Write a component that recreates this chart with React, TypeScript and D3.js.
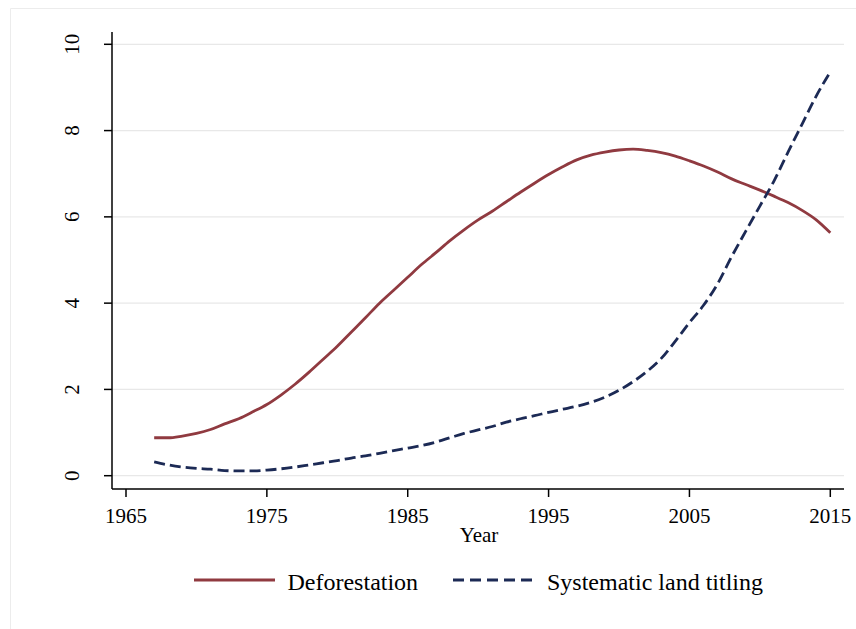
import React from "react";
import * as d3 from "d3";

const years: number[] = d3.range(1967, 2016);
const deforestation: number[] = [
  0.88, 0.88, 0.92, 0.98, 1.07, 1.2, 1.32, 1.48, 1.65, 1.87,
  2.12, 2.4, 2.7, 3.0, 3.33, 3.66, 4.0, 4.3, 4.6, 4.9,
  5.17, 5.45, 5.7, 5.93, 6.13, 6.35, 6.57, 6.78, 6.98, 7.16,
  7.32, 7.43, 7.5, 7.55, 7.57, 7.54, 7.49, 7.41, 7.3, 7.18,
  7.04, 6.88, 6.75, 6.62, 6.48, 6.33, 6.15, 5.93, 5.63,
];
const titling: number[] = [
  0.32, 0.25, 0.2, 0.17, 0.15, 0.12, 0.11, 0.11, 0.13, 0.16,
  0.2, 0.25, 0.3, 0.35, 0.41, 0.46, 0.52, 0.58, 0.64, 0.7,
  0.78, 0.88, 0.98, 1.06, 1.14, 1.24, 1.32, 1.39, 1.47, 1.54,
  1.61, 1.7, 1.82, 1.98, 2.18, 2.42, 2.72, 3.12, 3.55, 3.95,
  4.45, 5.08, 5.67, 6.25, 6.83, 7.5, 8.15, 8.8, 9.36,
];
const xTicks: number[] = [1965, 1975, 1985, 1995, 2005, 2015];
const yTicks: number[] = [0, 2, 4, 6, 8, 10];
const seriesNames: string[] = ["Deforestation", "Systematic land titling"];
const xTitle = "Year";

const RED = "#903a40";
const NAVY = "#1c2a55";
const FONT = '"Liberation Serif", "DejaVu Serif", serif';

export default function App() {
  const x = d3.scaleLinear().domain([1965, 2015]).range([126, 830.3]);
  const y = d3.scaleLinear().domain([0, 10]).range([475.7, 44.3]);
  const line = d3
    .line<number>()
    .x((_, i) => x(years[i]))
    .y((d) => y(d))
    .curve(d3.curveMonotoneX);

  const axisLeft = 112;
  const axisRight = 844;
  const axisBottom = 489;
  const axisTop = 32;
  const ts: React.CSSProperties = { fontFamily: FONT };

  return (
    <svg
      width={856}
      height={629}
      style={{ position: "absolute", left: 0, top: 0, background: "#fff", fontFamily: FONT }}
    >
      <rect x={0} y={0} width={856} height={629} fill="#fff" />
      <line x1={10.5} y1={8.5} x2={856} y2={8.5} stroke="#ececec" strokeWidth={1} />
      <line x1={10.5} y1={8.5} x2={10.5} y2={629} stroke="#ececec" strokeWidth={1} />

      {yTicks.map((t) => (
        <line
          key={"g" + t}
          x1={axisLeft}
          x2={axisRight}
          y1={y(t)}
          y2={y(t)}
          stroke="#e8e8e8"
          strokeWidth={1.3}
        />
      ))}

      <path d={line(deforestation) || ""} fill="none" stroke={RED} strokeWidth={2.8} />
      <path
        d={line(titling) || ""}
        fill="none"
        stroke={NAVY}
        strokeWidth={2.8}
        strokeDasharray="11,5"
      />

      <line x1={axisLeft} x2={axisLeft} y1={axisTop} y2={axisBottom} stroke="#000" strokeWidth={1.5} />
      <line x1={axisLeft} x2={axisRight} y1={axisBottom} y2={axisBottom} stroke="#000" strokeWidth={1.5} />
      {yTicks.map((t) => (
        <g key={"y" + t}>
          <line x1={104} x2={axisLeft} y1={y(t)} y2={y(t)} stroke="#000" strokeWidth={1.5} />
          <text
            transform={`translate(79,${y(t)}) rotate(-90)`}
            textAnchor="middle"
            fontSize={21}
            fill="#000"
            style={ts}
          >
            {t}
          </text>
        </g>
      ))}
      {xTicks.map((t) => (
        <g key={"x" + t}>
          <line x1={x(t)} x2={x(t)} y1={axisBottom} y2={497} stroke="#000" strokeWidth={1.5} />
          <text x={x(t)} y={523} textAnchor="middle" fontSize={21} fill="#000" style={ts}>
            {t}
          </text>
        </g>
      ))}
      <text x={479} y={542} textAnchor="middle" fontSize={21} fill="#000" style={ts}>
        {xTitle}
      </text>

      <line x1={194} x2={275} y1={580} y2={580} stroke={RED} strokeWidth={2.8} />
      <text x={287.5} y={590} fontSize={24} fill="#000" style={ts}>
        {seriesNames[0]}
      </text>
      <line
        x1={453}
        x2={535}
        y1={580}
        y2={580}
        stroke={NAVY}
        strokeWidth={2.8}
        strokeDasharray="11,6"
      />
      <text x={547} y={590} fontSize={24} fill="#000" style={ts}>
        {seriesNames[1]}
      </text>
    </svg>
  );
}
